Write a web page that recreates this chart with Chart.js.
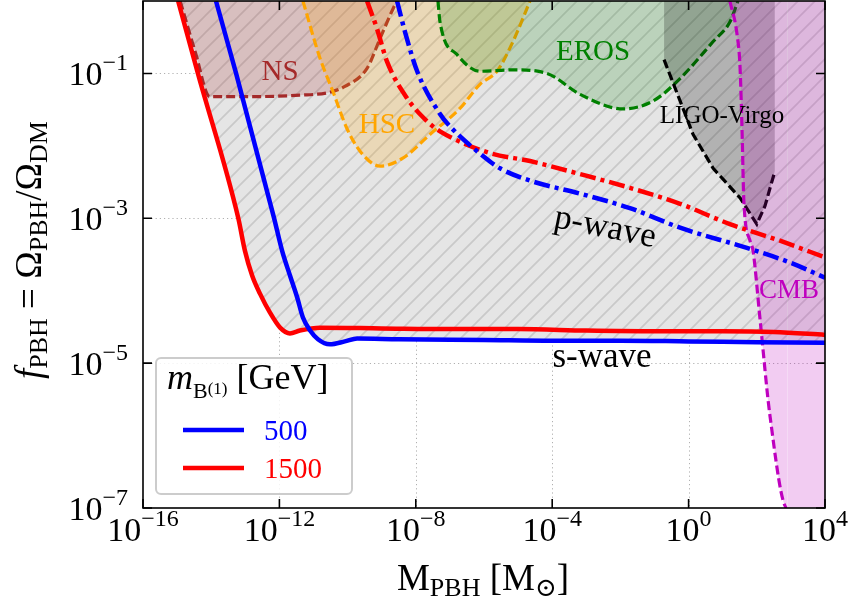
<!DOCTYPE html>
<html>
<head>
<meta charset="utf-8">
<script src="https://cdn.jsdelivr.net/npm/chart.js@4.4.1/dist/chart.umd.min.js"></script>
<style>
  html, body { margin: 0; padding: 0; background: #fff; }
  canvas { display: block; }
</style>
</head>
<body>
<canvas id="pbh-chart" width="852" height="607"></canvas>
<script>
// values, as [log10 M_PBH, log10 f_PBH]
const sWave500 = [[-13.86, 0], [-13.27, -1], [-12.16, -2.99], [-11.92, -3.45], [-11.69, -3.79], [-11.48, -4.09],
    [-11.31, -4.37], [-11.10, -4.55], [-10.87, -4.67], [-10.52, -4.74], [-10.08, -4.70], [-9.72, -4.66],
    [-8.5, -4.67], [-6, -4.68], [-4, -4.69], [-2, -4.69], [0, -4.70], [2, -4.71], [4, -4.72]];
const sWave1500 = [[-14.97, 0], [-14.39, -1], [-13.21, -2.99], [-13.01, -3.45], [-12.80, -3.79], [-12.57, -4.04],
    [-12.28, -4.30], [-11.98, -4.51], [-11.69, -4.59], [-11.40, -4.55], [-10.81, -4.51], [-9, -4.52],
    [-7, -4.53], [-5, -4.53], [-3, -4.55], [-1, -4.56], [1, -4.56], [2.5, -4.57], [4, -4.61]];
const pWave500 = [[-8.55, 0], [-8.32, -0.42], [-7.96, -0.97], [-7.29, -1.56], [-7.0, -1.73], [-6.03, -2.14],
    [-5.53, -2.31], [-4.65, -2.48], [-3.18, -2.66], [-1.72, -2.86], [-0.25, -3.13], [1.71, -3.41],
    [2.97, -3.61], [4, -3.82]];
const pWave1500 = [[-9.43, 0], [-9.14, -0.38], [-8.84, -0.84], [-8.26, -1.34], [-7.67, -1.66], [-7.29, -1.80],
    [-5.82, -2.10], [-4.65, -2.21], [-3.18, -2.39], [-1.72, -2.58], [-0.25, -2.80], [1.21, -3.08],
    [2.68, -3.31], [4, -3.54]];
const nsBound = [[-14.91, 0], [-14.47, -0.70], [-14.04, -1.32], [-12.86, -1.32], [-11.4, -1.30], [-10.52, -1.26],
    [-10.08, -1.18], [-9.43, -0.93], [-9.05, -0.52], [-8.67, -0.11], [-8.55, 0]];
const hscBound = [[-11.31, 0], [-10.81, -0.79], [-10.43, -1.25], [-10.02, -1.76], [-9.64, -2.07], [-9.05, -2.28],
    [-8.38, -2.17], [-7.58, -1.84], [-6.70, -1.48], [-6.12, -1.15], [-5.62, -0.97], [-5.15, -0.56], [-4.65, 0]];
const erosBound = [[-7.35, 0], [-7.29, -0.29], [-6.79, -0.74], [-6.12, -0.97], [-5.15, -0.95], [-4.15, -1.0],
    [-3.18, -1.29], [-1.92, -1.49], [-1.04, -1.38], [-0.25, -1.07], [0.72, -0.56], [1.21, -0.29], [1.45, 0]];
const ligoBound = [[-0.72, 0], [-0.72, -0.81], [-0.25, -1.38], [0.13, -1.84], [0.72, -2.31], [1.51, -2.72],
    [2.0, -3.08], [2.24, -2.83], [2.39, -2.58], [2.53, -2.35], [2.53, 0]];
const cmbBound = [[1.21, 0], [1.42, -0.46], [1.51, -0.93], [1.57, -1.84], [1.62, -2.76], [1.80, -3.31],
    [1.89, -3.45], [2.09, -4.37], [2.39, -5.74], [2.89, -7], [4, -7]];

const xTickExps = [-16, -12, -8, -4, 0, 4];
const yTickExps = [-7, -5, -3, -1];
const legendMasses = ['500', '1500'];

const SERIF = '"Liberation Serif", "DejaVu Serif", serif';

const pts = arr => arr.map(p => ({ x: Math.pow(10, p[0]), y: Math.pow(10, p[1]) }));

// grey excluded region: lower of the two s-wave curves
const crossing = [-11.13, -4.52];
const envelope = sWave1500.filter(p => p[0] < crossing[0] - 0.1)
    .concat([crossing])
    .concat(sWave500.filter(p => p[0] > crossing[0] + 0.1));

const ctx = document.getElementById('pbh-chart').getContext('2d');

function hatchPattern() {
    const s = 17;
    const c = document.createElement('canvas');
    c.width = s; c.height = s;
    const g = c.getContext('2d');
    g.fillStyle = '#e5e5e5';
    g.fillRect(0, 0, s, s);
    g.strokeStyle = '#c9c9c9';
    g.lineWidth = 1.7;
    g.beginPath();
    g.moveTo(0, s); g.lineTo(s, 0);
    g.moveTo(-s / 2, s / 2); g.lineTo(s / 2, -s / 2);
    g.moveTo(s / 2, s + s / 2); g.lineTo(s + s / 2, s / 2);
    g.stroke();
    return ctx.createPattern(c, 'repeat');
}

function richText(c, parts, x, y, align) {
    let w = 0;
    parts.forEach(p => {
        c.font = (p.it ? 'italic ' : '') + p.size + 'px ' + SERIF;
        p.w = c.measureText(p.t).width;
        w += p.w;
    });
    let cx = align === 'center' ? x - w / 2 : align === 'right' ? x - w : x;
    c.textAlign = 'left';
    c.textBaseline = 'alphabetic';
    parts.forEach(p => {
        c.font = (p.it ? 'italic ' : '') + p.size + 'px ' + SERIF;
        c.fillStyle = p.color || '#000';
        c.fillText(p.t, cx, y + (p.dy || 0));
        cx += p.w;
    });
}

function curve(data, color, width, dash, order) {
    return {
        data: pts(data), borderColor: color, borderWidth: width, borderDash: dash,
        pointRadius: 0, fill: false, cubicInterpolationMode: 'monotone', order: order
    };
}

function region(data, color, fillColor, order, hide) {
    const ds = {
        data: pts(data), borderColor: color, borderWidth: 3.2, borderDash: [9, 4],
        backgroundColor: fillColor, fill: 'end', pointRadius: 0, order: order,
        cubicInterpolationMode: 'monotone'
    };
    if (hide) ds.segment = { borderColor: s => hide(s) ? 'rgba(0,0,0,0)' : color };
    return ds;
}

const frame = {
    id: 'frame',
    beforeDatasetsDraw(chart) {
        const { ctx: c, chartArea: a, scales: { x, y } } = chart;
        c.save();
        c.strokeStyle = '#b0b0b0';
        c.lineWidth = 1;
        c.setLineDash([1.2, 3]);
        xTickExps.slice(1, -1).forEach(e => {
            const px = Math.round(x.getPixelForValue(Math.pow(10, e))) + 0.5;
            c.beginPath(); c.moveTo(px, a.top); c.lineTo(px, a.bottom); c.stroke();
        });
        yTickExps.slice(1).forEach(e => {
            const py = Math.round(y.getPixelForValue(Math.pow(10, e))) + 0.5;
            c.beginPath(); c.moveTo(a.left, py); c.lineTo(a.right, py); c.stroke();
        });
        c.restore();
    },
    afterDatasetsDraw(chart) {
        const { ctx: c, chartArea: a, scales: { x, y } } = chart;
        c.save();
        c.strokeStyle = '#000';
        c.lineWidth = 1.6;
        c.strokeRect(a.left, a.top, a.right - a.left, a.bottom - a.top);
        const t = 9;
        c.beginPath();
        xTickExps.forEach(e => {
            const px = x.getPixelForValue(Math.pow(10, e));
            c.moveTo(px, a.bottom); c.lineTo(px, a.bottom - t);
            c.moveTo(px, a.top); c.lineTo(px, a.top + t);
        });
        yTickExps.forEach(e => {
            const py = y.getPixelForValue(Math.pow(10, e));
            c.moveTo(a.left, py); c.lineTo(a.left + t, py);
            c.moveTo(a.right, py); c.lineTo(a.right - t, py);
        });
        c.stroke();

        // tick labels
        xTickExps.forEach(e => {
            const px = x.getPixelForValue(Math.pow(10, e));
            richText(c, [{ t: '10', size: 34 }, { t: String(e).replace('-', '\u2212'), size: 24, dy: -15 }], px, 541, 'center');
        });
        yTickExps.forEach(e => {
            const py = y.getPixelForValue(Math.pow(10, e));
            richText(c, [{ t: '10', size: 34 }, { t: String(e).replace('-', '\u2212'), size: 24, dy: -15 }], 128, py + 12, 'right');
        });

        // axis titles
        richText(c, [{ t: 'M', size: 37 }, { t: 'PBH', size: 26, dy: 6 }, { t: ' [M', size: 37 },
            { t: '\u2299', size: 26, dy: 6 }, { t: ']', size: 37 }], 483, 590, 'center');
        c.save();
        c.translate(41, 250);
        c.rotate(-Math.PI / 2);
        richText(c, [{ t: 'f', size: 37, it: true }, { t: 'PBH', size: 26, dy: 6 }, { t: ' = \u03a9', size: 37 },
            { t: 'PBH', size: 26, dy: 6 }, { t: '/\u03a9', size: 37 }, { t: 'DM', size: 26, dy: 6 }], 0, 0, 'center');
        c.restore();

        // region and curve labels
        c.font = '29px ' + SERIF;
        c.textAlign = 'center';
        c.textBaseline = 'alphabetic';
        c.fillStyle = '#a52a2a'; c.fillText('NS', 280, 80);
        c.fillStyle = '#ffa500'; c.fillText('HSC', 387, 133);
        c.fillStyle = '#008000'; c.fillText('EROS', 593, 60);
        c.font = '25px ' + SERIF;
        c.fillStyle = '#000'; c.fillText('LIGO-Virgo', 722, 123);
        c.font = '27px ' + SERIF;
        c.fillStyle = '#bf00bf'; c.fillText('CMB', 789, 298);
        c.font = '35px ' + SERIF;
        c.fillStyle = '#000'; c.fillText('s-wave', 602, 367);
        c.save();
        c.translate(605, 228);
        c.rotate(11.5 * Math.PI / 180);
        c.textBaseline = 'middle';
        c.fillText('p-wave', 0, 0);
        c.restore();

        // legend
        c.beginPath();
        c.roundRect(156, 358, 196, 136, 5);
        c.fillStyle = 'rgba(255,255,255,0.85)';
        c.fill();
        c.strokeStyle = '#cccccc';
        c.lineWidth = 2;
        c.stroke();
        richText(c, [{ t: 'm', size: 36, it: true }, { t: 'B', size: 22, dy: 9 }, { t: '(1)', size: 17, dy: 5 },
            { t: ' [GeV]', size: 36 }], 167, 389, 'left');
        const legendColors = ['#0000ff', '#ff0000'];
        legendMasses.forEach((m, i) => {
            const ly = 430 + i * 38;
            c.strokeStyle = legendColors[i];
            c.lineWidth = 4.5;
            c.beginPath(); c.moveTo(183, ly); c.lineTo(244, ly); c.stroke();
            c.font = '29px ' + SERIF;
            c.fillStyle = legendColors[i];
            c.textAlign = 'left';
            c.fillText(m, 264, ly + 10);
        });
        c.restore();
    }
};

new Chart(ctx, {
    type: 'line',
    data: {
        datasets: [
            curve(sWave500, '#0000ff', 4.5, [], 1),
            curve(sWave1500, '#ff0000', 4.5, [], 2),
            curve(pWave500, '#0000ff', 4.5, [16, 5, 4, 5], 3),
            curve(pWave1500, '#ff0000', 4.5, [16, 5, 4, 5], 4),
            region(cmbBound, '#bf00bf', 'rgba(191,0,191,0.2)', 5, s => s.p0.parsed.y === s.p1.parsed.y),
            Object.assign(region(ligoBound, '#000000', 'rgba(0,0,0,0.22)', 6, s => s.p0.parsed.x === s.p1.parsed.x),
                { cubicInterpolationMode: 'default', tension: 0 }),
            region(erosBound, '#008000', 'rgba(0,128,0,0.18)', 7),
            region(hscBound, '#ffa500', 'rgba(255,165,0,0.2)', 8),
            region(nsBound, '#a52a2a', 'rgba(165,42,42,0.2)', 9),
            { data: pts(envelope), borderWidth: 0, borderColor: 'rgba(0,0,0,0)', backgroundColor: hatchPattern(),
                fill: 'end', pointRadius: 0, cubicInterpolationMode: 'monotone', order: 10 }
        ]
    },
    options: {
        responsive: false,
        animation: false,
        layout: { padding: { left: 143, right: 27, top: 1, bottom: 99 } },
        scales: {
            x: { type: 'logarithmic', min: 1e-16, max: 1e4, display: false },
            y: { type: 'logarithmic', min: 1e-7, max: 1, display: false }
        },
        plugins: { legend: { display: false }, tooltip: { enabled: false } }
    },
    plugins: [frame]
});
</script>
</body>
</html>
